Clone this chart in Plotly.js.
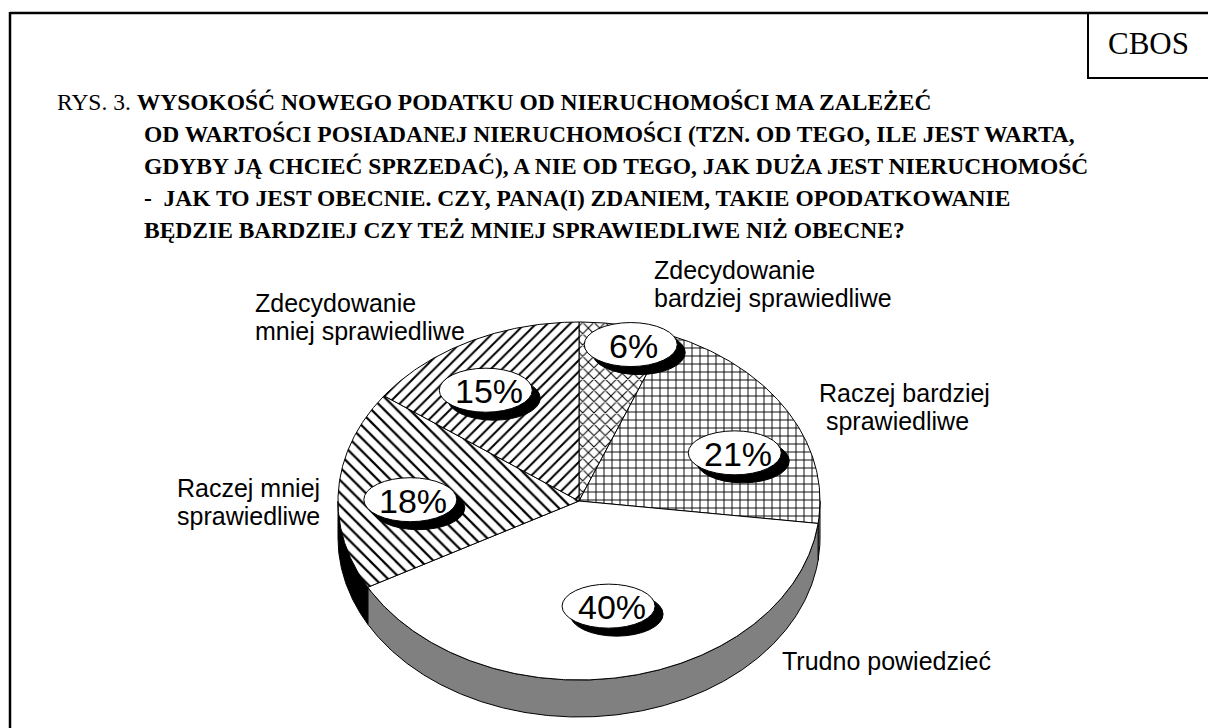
<!DOCTYPE html>
<html><head><meta charset="utf-8">
<script src="https://cdn.plot.ly/plotly-3.0.1.min.js"></script>
<style>html,body{margin:0;padding:0;background:#fff}#chart{width:1208px;height:728px}</style>
</head><body><div id="chart"></div>
<script>
// ---- data ----
const categories = ["Zdecydowanie bardziej sprawiedliwe", "Raczej bardziej sprawiedliwe", "Trudno powiedzieć", "Raczej mniej sprawiedliwe", "Zdecydowanie mniej sprawiedliwe"];
const values = [6, 21, 40, 18, 15];
const labelLines = [["Zdecydowanie", "bardziej sprawiedliwe"], ["Raczej bardziej", " sprawiedliwe"], ["Trudno powiedzieć"], ["Raczej mniej", "sprawiedliwe"], ["Zdecydowanie", "mniej sprawiedliwe"]];
const titlePrefix = "RYS. 3. ";
const titleLines = [
  "WYSOKOŚĆ NOWEGO PODATKU OD NIERUCHOMOŚCI MA ZALEŻEĆ",
  "OD WARTOŚCI POSIADANEJ NIERUCHOMOŚCI (TZN. OD TEGO, ILE JEST WARTA,",
  "GDYBY JĄ CHCIEĆ SPRZEDAĆ), A NIE OD TEGO, JAK DUŻA JEST NIERUCHOMOŚĆ",
  "-  JAK TO JEST OBECNIE. CZY, PANA(I) ZDANIEM, TAKIE OPODATKOWANIE",
  "BĘDZIE BARDZIEJ CZY TEŻ MNIEJ SPRAWIEDLIWE NIŻ OBECNE?"
];
const sourceLabel = "CBOS";

// ---- styles / layout (not data) ----
const W = 1208, H = 728;
const geom = {cx: 579, cy: 501, a: 241, b: 179, depth: 37};
const patterns = [
  {shape: "x", size: 8, solidity: 0.24},
  {shape: "+", size: 8, solidity: 0.22},
  null,
  {shape: "\\", size: 9, solidity: 0.25},
  {shape: "/", size: 8, solidity: 0.25}
];
const wallColors = ["#000000", "#808080", "#808080", "#000000", "#000000"];
const bubbleRadial = [0.9, 0.7, 0.6, 0.7, 0.73];
const bubbleAngleShift = [3, 8, -1, -3, -5];
const labelPos = [[652, 269.5], [817, 392.5], [780, 661], [175, 487.5], [253, 302.5]];
const labelLineGap = 28;
const sansFont = "Arial, 'Liberation Sans', sans-serif";
const serifFont = "'Times New Roman', 'Liberation Serif', serif";

function pt(t, dz) {
  const r = t * Math.PI / 180;
  return [geom.cx + geom.a * Math.sin(r), geom.cy - geom.b * Math.cos(r) + (dz || 0)];
}
function arc(t1, t2, dz) {
  const pts = [];
  const n = Math.max(2, Math.ceil(Math.abs(t2 - t1) / 0.5));
  for (let i = 0; i <= n; i++) pts.push(pt(t1 + (t2 - t1) * i / n, dz));
  return pts;
}

const total = values.reduce((s, v) => s + v, 0);
const starts = [], ends = [];
let acc = 0;
values.forEach(v => { starts.push(acc / total * 360); acc += v; ends.push(acc / total * 360); });

const traces = [];
// walls (front, visible between 90 and 270 degrees)
values.forEach((v, i) => {
  const s = Math.max(starts[i], 90), e = Math.min(ends[i], 270);
  if (s >= e) return;
  const pts = arc(s, e, 0).concat(arc(e, s, geom.depth));
  pts.push(pts[0]);
  traces.push({
    type: "scatter", mode: "lines", x: pts.map(p => p[0]), y: pts.map(p => p[1]),
    fill: "toself", fillcolor: wallColors[i], line: {color: "#000", width: 1},
    hoverinfo: "skip", showlegend: false
  });
});
// top faces
values.forEach((v, i) => {
  const pts = [[geom.cx, geom.cy]].concat(arc(starts[i], ends[i], 0));
  pts.push([geom.cx, geom.cy]);
  const tr = {
    type: "scatter", mode: "lines", name: categories[i],
    x: pts.map(p => p[0]), y: pts.map(p => p[1]),
    fill: "toself", fillcolor: "#ffffff", line: {color: "#000", width: 1},
    hoverinfo: "skip", showlegend: false
  };
  if (patterns[i]) tr.fillpattern = Object.assign({fgcolor: "#000", bgcolor: "#fff", fillmode: "replace"}, patterns[i]);
  traces.push(tr);
});

const shapes = [
  {type: "line", xref: "x", yref: "y", x0: 10, x1: W + 5, y0: 13, y1: 13, line: {color: "#000", width: 2.5}},
  {type: "line", xref: "x", yref: "y", x0: 10, x1: 10, y0: 12, y1: H + 5, line: {color: "#000", width: 2.5}},
  {type: "rect", xref: "x", yref: "y", x0: 1088, x1: W + 5, y0: 13, y1: 78, line: {color: "#000", width: 2}}
];
const annotations = [];
const bw = 93, bh = 44, sh = 8;
values.forEach((v, i) => {
  const mid = (starts[i] + ends[i]) / 2 + bubbleAngleShift[i];
  const r = mid * Math.PI / 180;
  const bx = geom.cx + geom.a * bubbleRadial[i] * Math.sin(r);
  const by = geom.cy - geom.b * bubbleRadial[i] * Math.cos(r);
  shapes.push({type: "circle", xref: "x", yref: "y", x0: bx - bw / 2 + sh, x1: bx + bw / 2 + sh, y0: by - bh / 2 + sh, y1: by + bh / 2 + sh, fillcolor: "#000", line: {color: "#000", width: 1}});
  shapes.push({type: "circle", xref: "x", yref: "y", x0: bx - bw / 2, x1: bx + bw / 2, y0: by - bh / 2, y1: by + bh / 2, fillcolor: "#fff", line: {color: "#000", width: 1}});
  annotations.push({x: bx + 3, y: by + 1, xref: "x", yref: "y", text: v + "%", showarrow: false, xanchor: "center", yanchor: "middle", font: {family: sansFont, size: 34, color: "#000"}});
  labelLines[i].forEach((ln, j) => {
    annotations.push({x: labelPos[i][0], y: labelPos[i][1] + j * labelLineGap, xref: "x", yref: "y", text: ln.replace(/ /g, "&nbsp;"), showarrow: false, xanchor: "left", yanchor: "middle", font: {family: sansFont, size: 25, color: "#000"}});
  });
});
titleLines.forEach((ln, j) => {
  annotations.push({
    x: j === 0 ? 55 : 142, y: 102 + j * 32, xref: "x", yref: "y", showarrow: false, xanchor: "left", yanchor: "middle",
    text: (j === 0 ? titlePrefix : "") + "<b>" + ln + "</b>",
    font: {family: serifFont, size: 23.5, color: "#000"}
  });
});
annotations.push({x: 1148, y: 43, xref: "x", yref: "y", text: sourceLabel, showarrow: false, xanchor: "center", yanchor: "middle", font: {family: serifFont, size: 31, color: "#000"}});

const layout = {
  width: W, height: H, margin: {l: 0, r: 0, t: 0, b: 0},
  paper_bgcolor: "#fff", plot_bgcolor: "#fff", showlegend: false,
  xaxis: {range: [0, W], visible: false, fixedrange: true},
  yaxis: {range: [H, 0], visible: false, fixedrange: true},
  shapes: shapes, annotations: annotations
};
Plotly.newPlot("chart", traces, layout, {staticPlot: true, displayModeBar: false});
</script>
</body></html>
